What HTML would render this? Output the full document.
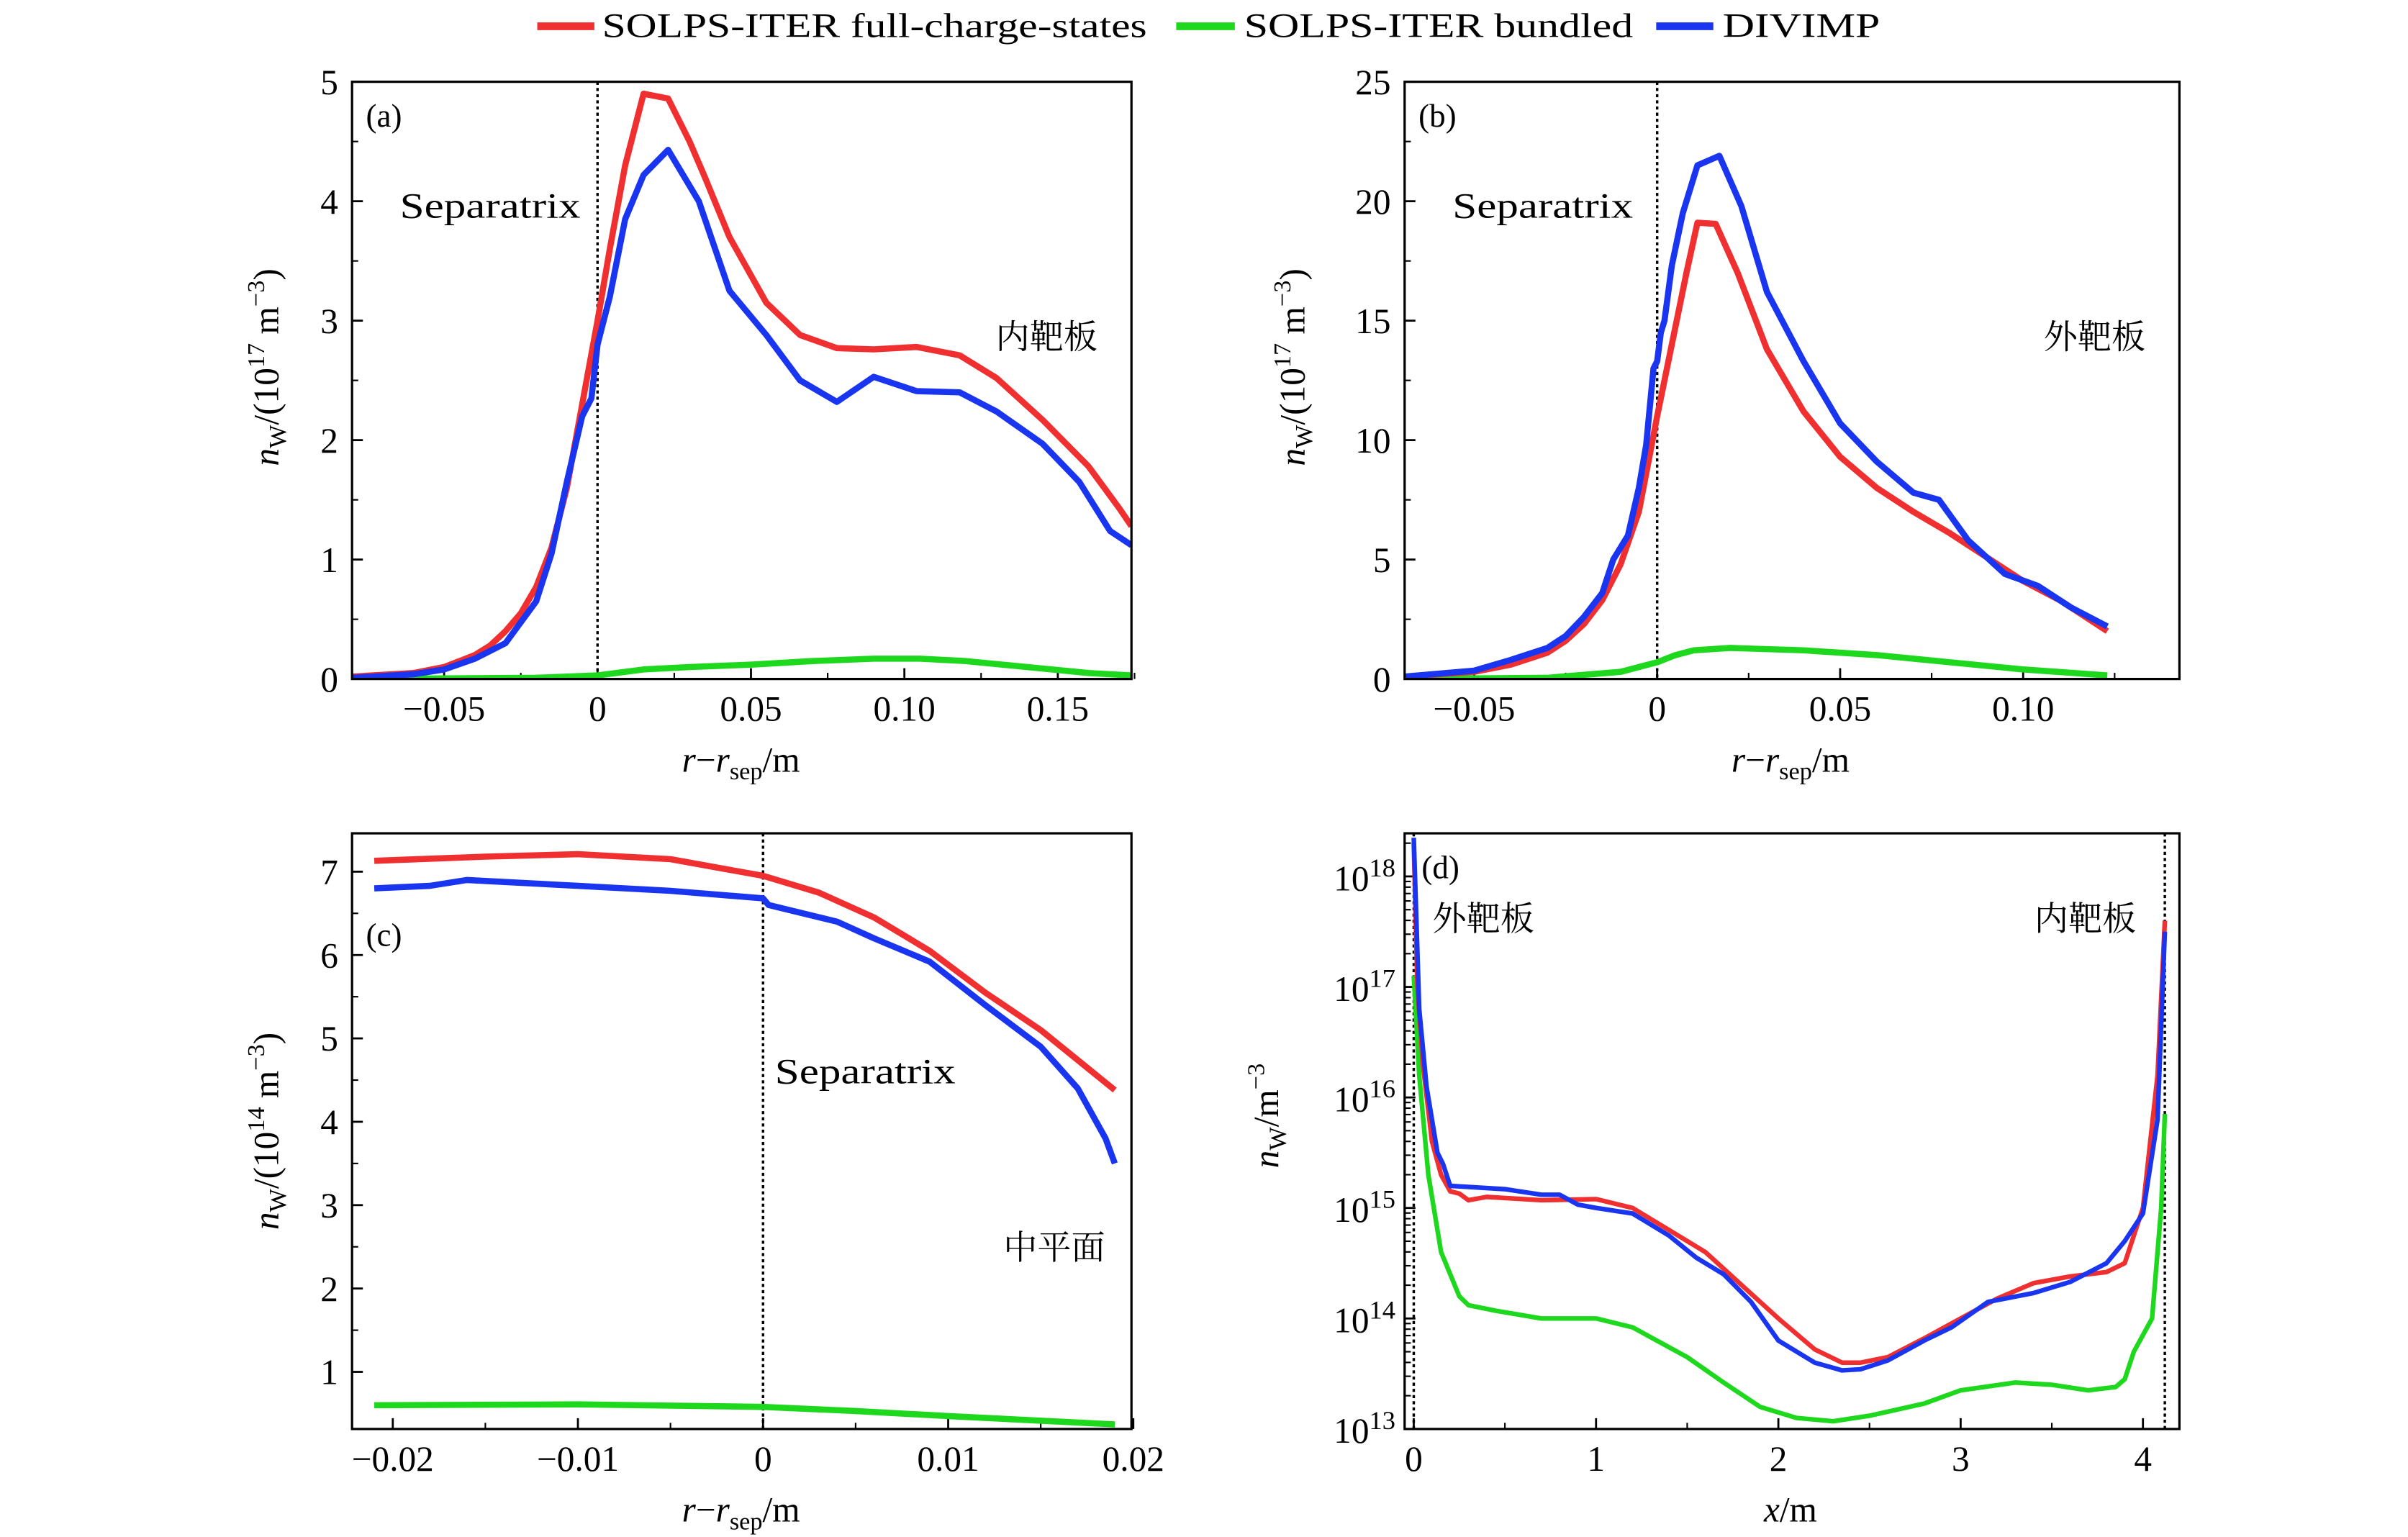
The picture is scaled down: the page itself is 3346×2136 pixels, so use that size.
<!DOCTYPE html>
<html><head><meta charset="utf-8"><style>
html,body{margin:0;padding:0;background:#fff}
svg{display:block}
text{font-family:"Liberation Serif","Noto Serif CJK SC",serif;fill:#000}
</style></head><body>
<svg id="fig" width="3346" height="2136" viewBox="0 0 1560 996" xmlns="http://www.w3.org/2000/svg">
<g>
<line x1="348" y1="17" x2="385" y2="17" stroke="#f03030" stroke-width="5"/>
<text x="390" y="24" font-size="22" textLength="353" lengthAdjust="spacingAndGlyphs">SOLPS-ITER full-charge-states</text>
<line x1="762" y1="17" x2="800" y2="17" stroke="#1ed81e" stroke-width="5"/>
<text x="806" y="24" font-size="22" textLength="252" lengthAdjust="spacingAndGlyphs">SOLPS-ITER bundled</text>
<line x1="1073" y1="17" x2="1110" y2="17" stroke="#1a35f0" stroke-width="5"/>
<text x="1116" y="24" font-size="22" textLength="102" lengthAdjust="spacingAndGlyphs">DIVIMP</text>
</g>
</svg>
<script>
// Panel (a)
const aRedX=[-0.08,-0.06,-0.05,-0.04,-0.035,-0.03,-0.025,-0.02,-0.015,-0.01,-0.005,0,0.004,0.009,0.015,0.023,0.03,0.035,0.043,0.055,0.066,0.078,0.09,0.104,0.118,0.13,0.145,0.16,0.17,0.174];
const aRedY=[0.02,0.05,0.1,0.2,0.28,0.4,0.55,0.77,1.1,1.6,2.3,3.0,3.6,4.3,4.9,4.86,4.5,4.2,3.7,3.15,2.88,2.77,2.76,2.78,2.71,2.52,2.17,1.78,1.43,1.28];
const aBlueX=[-0.08,-0.06,-0.05,-0.04,-0.03,-0.02,-0.015,-0.01,-0.005,-0.002,0,0.004,0.009,0.015,0.023,0.033,0.043,0.055,0.066,0.078,0.09,0.104,0.118,0.13,0.145,0.157,0.167,0.174];
const aBlueY=[0.01,0.04,0.08,0.17,0.3,0.65,1.05,1.65,2.2,2.35,2.8,3.2,3.85,4.22,4.43,4.0,3.25,2.88,2.5,2.32,2.53,2.41,2.4,2.24,1.97,1.65,1.24,1.12];
const aGreenX=[-0.08,-0.02,0,0.015,0.03,0.05,0.07,0.09,0.105,0.12,0.14,0.16,0.174];
const aGreenY=[0,0.01,0.03,0.08,0.1,0.12,0.15,0.17,0.17,0.15,0.1,0.05,0.03];
const aXTicks=[-0.05,0,0.05,0.10,0.15];
const aXLabels=["\u22120.05","0","0.05","0.10","0.15"];
const aYTicks=[0,1,2,3,4,5];
const aYLabels=["0","1","2","3","4","5"];
// Panel (b)
const bRedX=[-0.069,-0.05,-0.04,-0.03,-0.025,-0.02,-0.015,-0.01,-0.005,0,0.004,0.008,0.011,0.016,0.022,0.03,0.04,0.05,0.06,0.07,0.08,0.09,0.1,0.11,0.123];
const bRedY=[0.1,0.3,0.6,1.1,1.6,2.3,3.3,4.8,7,11,14,17,19.1,19.05,17,13.8,11.2,9.3,8,7,6.1,5.1,4.1,3.3,2.0];
const bBlueX=[-0.069,-0.05,-0.04,-0.03,-0.025,-0.02,-0.015,-0.012,-0.008,-0.005,-0.003,-0.001,0,0.001,0.002,0.004,0.007,0.011,0.017,0.023,0.03,0.04,0.05,0.06,0.07,0.077,0.085,0.095,0.104,0.113,0.123];
const bBlueY=[0.1,0.35,0.8,1.3,1.8,2.6,3.6,5.0,6.0,8,9.8,13,13.3,14.5,15,17.3,19.5,21.5,21.9,19.8,16.2,13.3,10.7,9.1,7.8,7.5,5.8,4.4,3.9,3.0,2.2];
const bGreenX=[-0.069,-0.03,-0.01,0,0.005,0.01,0.02,0.04,0.06,0.08,0.1,0.123];
const bGreenY=[0,0.05,0.3,0.7,1.0,1.2,1.3,1.2,1.0,0.7,0.4,0.15];
const bXTicks=[-0.05,0,0.05,0.10];
const bXLabels=["\u22120.05","0","0.05","0.10"];
const bYTicks=[0,5,10,15,20,25];
const bYLabels=["0","5","10","15","20","25"];
// Panel (c)
const cRedX=[-0.021,-0.015,-0.01,-0.005,0,0.003,0.006,0.009,0.012,0.015,0.019];
const cRedY=[7.13,7.18,7.21,7.15,6.95,6.75,6.45,6.05,5.55,5.1,4.38];
const cBlueX=[-0.021,-0.018,-0.016,-0.01,-0.005,0,0.0003,0.004,0.006,0.009,0.012,0.015,0.017,0.0185,0.019];
const cBlueY=[6.8,6.83,6.9,6.83,6.77,6.68,6.6,6.4,6.2,5.92,5.4,4.9,4.4,3.8,3.5];
const cGreenX=[-0.021,-0.01,0,0.005,0.01,0.019];
const cGreenY=[0.6,0.61,0.58,0.53,0.47,0.37];
const cXTicks=[-0.02,-0.01,0,0.01,0.02];
const cXLabels=["\u22120.02","\u22120.01","0","0.01","0.02"];
const cYTicks=[1,2,3,4,5,6,7];
const cYLabels=["1","2","3","4","5","6","7"];
// Panel (d) (values as log10 of density)
const dRedX=[0,0.02,0.05,0.1,0.15,0.2,0.25,0.3,0.4,0.7,1.0,1.2,1.4,1.6,1.8,2.0,2.2,2.35,2.45,2.6,2.8,3.0,3.2,3.4,3.6,3.8,3.9,4.0,4.08,4.12];
const dRedY=[18.3,17,16.3,15.6,15.3,15.15,15.13,15.07,15.1,15.07,15.08,15.0,14.8,14.6,14.3,14.0,13.72,13.6,13.6,13.65,13.82,14.0,14.18,14.32,14.38,14.42,14.5,15.0,16.2,17.6];
const dBlueX=[0,0.03,0.07,0.13,0.16,0.2,0.5,0.7,0.8,0.9,1.0,1.2,1.4,1.55,1.7,1.85,2.0,2.2,2.35,2.45,2.6,2.8,2.95,3.15,3.4,3.6,3.8,3.9,4.0,4.08,4.12];
const dBlueY=[18.35,16.8,16.1,15.5,15.4,15.2,15.17,15.12,15.12,15.03,15.0,14.95,14.75,14.55,14.4,14.15,13.8,13.6,13.53,13.54,13.62,13.8,13.92,14.15,14.23,14.33,14.5,14.7,14.95,15.8,17.5];
const dGreenX=[0,0.03,0.08,0.15,0.25,0.3,0.45,0.7,1.0,1.2,1.5,1.7,1.9,2.1,2.3,2.5,2.8,3.0,3.3,3.5,3.7,3.85,3.9,3.95,4.05,4.1,4.12];
const dGreenY=[17.1,16.2,15.3,14.6,14.2,14.12,14.07,14.0,14.0,13.92,13.65,13.42,13.2,13.1,13.07,13.12,13.23,13.35,13.42,13.4,13.35,13.38,13.45,13.7,14.0,15.0,15.85];
const dXTicks=[0,1,2,3,4];
const dXLabels=["0","1","2","3","4"];
const dYTicks=[13,14,15,16,17,18];
const dYLabels=["13","14","15","16","17","18"];

const NS="http://www.w3.org/2000/svg";
const svg=document.getElementById('fig');
function mk(tag,attrs,parent){const e=document.createElementNS(NS,tag);for(const k in attrs)e.setAttribute(k,attrs[k]);(parent||svg).appendChild(e);return e;}
const RED="#f03030",GREEN="#1ed81e",BLUE="#1a35f0";
const FS=23;

function panel(id,box,xd,yd,xT,xL,yT,yL,series,opts){
  const g=mk('g',{});
  
  
  const [L,T,R,B]=box;
  const sx=v=>L+(v-xd[0])/(xd[1]-xd[0])*(R-L);
  const sy=v=>B-(v-yd[0])/(yd[1]-yd[0])*(B-T);
  (opts.xMinor||[]).forEach(v=>{const t=mk('line',{x1:sx(v),x2:sx(v),y1:B,y2:B-4,stroke:'#000','stroke-width':1},g);
    });
  (opts.yMinor||[]).forEach(v=>{const t=mk('line',{x1:L,x2:L+4,y1:sy(v),y2:sy(v),stroke:'#000','stroke-width':1},g);
    });
  xT.forEach((v,i)=>{
    const t=mk('line',{x1:sx(v),x2:sx(v),y1:B,y2:B-7,stroke:'#000','stroke-width':1.3},g);
    
    const tx=mk('text',{x:sx(v),y:B+27,'font-size':FS,'text-anchor':'middle'},g);
    tx.textContent=xL[i];
    
  });
  yT.forEach((v,i)=>{
    const t=mk('line',{x1:L,x2:L+7,y1:sy(v),y2:sy(v),stroke:'#000','stroke-width':1.3},g);
    
    if(opts.log){
      const tx=mk('text',{x:L-6,y:sy(v)+9,'font-size':FS,'text-anchor':'end'},g);
      
      tx.appendChild(document.createTextNode('10'));
      const s=mk('tspan',{dy:-9,'font-size':17},tx);s.textContent=yL[i];
    }else{
      const tx=mk('text',{x:L-9,y:sy(v)+8,'font-size':FS,'text-anchor':'end'},g);
      tx.textContent=yL[i];
      
    }
  });
  (opts.vlines||[]).forEach(v=>{const l=mk('line',{x1:sx(v),x2:sx(v),y1:T,y2:B,stroke:'#000','stroke-width':1.6,'stroke-dasharray':'2,2'},g);
    });
  const clipId='clip'+id;
  const cp=mk('clipPath',{id:clipId},g);mk('rect',{x:L,y:T,width:R-L,height:B-T},cp);
  series.forEach(s=>{
    const d=s.x.map((v,i)=>(i?'L':'M')+sx(v).toFixed(2)+','+sy(s.y[i]).toFixed(2)).join(' ');
    const p=mk('path',{d:d,fill:'none',stroke:s.c,'stroke-width':opts.lw,'stroke-linejoin':'round','clip-path':'url(#'+clipId+')'},g);
    
  });
  const fr=mk('rect',{x:L,y:T,width:R-L,height:B-T,fill:'none',stroke:'#000','stroke-width':1.5},g);
  
  return g;
}
function txt(g,x,y,s,size,name,len){const a={x:x,y:y,'font-size':size};if(len){a.textLength=len;a.lengthAdjust='spacingAndGlyphs';}
  const t=mk('text',a,g);t.textContent=s;
  return t;}
function ylab(g,x,y,exp,sup){
  const t=mk('text',{x:0,y:0,'font-size':FS,'text-anchor':'middle',transform:'translate('+x+','+y+') rotate(-90)'},g);
  
  const n=mk('tspan',{'font-style':'italic'},t);n.textContent='n';
  const w=mk('tspan',{dy:5,'font-size':16},t);w.textContent='W';
  const r=mk('tspan',{dy:-5},t);r.textContent=exp;
  if(sup){const s=mk('tspan',{dy:-9,'font-size':16},t);s.textContent=sup;
    const r2=mk('tspan',{dy:9},t);r2.textContent=' m';
    const s2=mk('tspan',{dy:-9,'font-size':16},t);s2.textContent='\u22123';
    const r3=mk('tspan',{dy:9},t);r3.textContent=')';}
  else{const s2=mk('tspan',{dy:-9,'font-size':16},t);s2.textContent='\u22123';}
}
function xlabR(g,x,y){
  const t=mk('text',{x:x,y:y,'font-size':FS,'text-anchor':'middle'},g);
  
  const a=mk('tspan',{'font-style':'italic'},t);a.textContent='r';
  const b=mk('tspan',{},t);b.textContent='\u2212';
  const c=mk('tspan',{'font-style':'italic'},t);c.textContent='r';
  const d=mk('tspan',{dy:5,'font-size':16},t);d.textContent='sep';
  const e=mk('tspan',{dy:-5},t);e.textContent='/m';
}
const rng=(a,b,s)=>{const o=[];for(let v=a;v<=b+1e-9;v+=s)o.push(+v.toFixed(6));return o;};

// (a)
let ga=panel('a',[228,53,733,440],[-0.08,0.174],[0,5],aXTicks,aXLabels,aYTicks,aYLabels,
 [{x:aGreenX,y:aGreenY,c:GREEN,n:'bundled-line'},{x:aRedX,y:aRedY,c:RED,n:'full-charge-line'},{x:aBlueX,y:aBlueY,c:BLUE,n:'divimp-line'}],
 {lw:4,vlines:[0],xMinor:rng(-0.075,0.175,0.025),yMinor:rng(0.5,4.5,1)});
txt(ga,237,82,'(a)',21,'panel-label');
txt(ga,259,141,'Separatrix',23,'separatrix-label',117);
txt(ga,645,226,'内靶板',22,'region-label');
ylab(ga,180,238,'/(10','17');
xlabR(ga,480,500);

// (b)
let gb=panel('b',[910,53,1412,440],[-0.069,0.1427],[0,25],bXTicks,bXLabels,bYTicks,bYLabels,
 [{x:bGreenX,y:bGreenY,c:GREEN,n:'bundled-line'},{x:bRedX,y:bRedY,c:RED,n:'full-charge-line'},{x:bBlueX,y:bBlueY,c:BLUE,n:'divimp-line'}],
 {lw:4,vlines:[0],xMinor:rng(-0.05,0.125,0.025),yMinor:rng(2.5,22.5,5)});
txt(gb,919,82,'(b)',21,'panel-label');
txt(gb,941,141,'Separatrix',23,'separatrix-label',117);
txt(gb,1324,226,'外靶板',22,'region-label');
ylab(gb,845,238,'/(10','17');
xlabR(gb,1160,500);

// (c)
let gc=panel('c',[228,540,733,926],[-0.0222,0.0199],[0.315,7.46],cXTicks,cXLabels,cYTicks,cYLabels,
 [{x:cGreenX,y:cGreenY,c:GREEN,n:'bundled-line'},{x:cRedX,y:cRedY,c:RED,n:'full-charge-line'},{x:cBlueX,y:cBlueY,c:BLUE,n:'divimp-line'}],
 {lw:4,vlines:[0],xMinor:rng(-0.015,0.015,0.01),yMinor:rng(1.5,6.5,1)});
txt(gc,237,613,'(c)',21,'panel-label');
txt(gc,502,702,'Separatrix',23,'separatrix-label',117);
txt(gc,650,816,'中平面',22,'region-label');
ylab(gc,180,733,'/(10','14');
xlabR(gc,480,986);

// (d)
const dMinor=[];for(let e=13;e<18;e++)for(let m=2;m<10;m++)dMinor.push(e+Math.log10(m));
let gd=panel('d',[910,540,1412,926],[-0.05,4.2],[13,18.39],dXTicks,dXLabels,dYTicks,dYLabels,
 [{x:dGreenX,y:dGreenY,c:GREEN,n:'bundled-line'},{x:dRedX,y:dRedY,c:RED,n:'full-charge-line'},{x:dBlueX,y:dBlueY,c:BLUE,n:'divimp-line'}],
 {lw:3,log:true,vlines:[0,4.12],xMinor:[0.5,1.5,2.5,3.5],yMinor:dMinor.concat([18+Math.log10(2)])});
txt(gd,921,569,'(d)',21,'panel-label');
txt(gd,928,603,'外靶板',22,'region-label');
txt(gd,1318,603,'内靶板',22,'region-label');
ylab(gd,828,723,'/m',null);
(function(){const t=mk('text',{x:1160,y:986,'font-size':FS,'text-anchor':'middle'},gd);
 
 const a=mk('tspan',{'font-style':'italic'},t);a.textContent='x';const b=mk('tspan',{},t);b.textContent='/m';})();
</script>
</body></html>
